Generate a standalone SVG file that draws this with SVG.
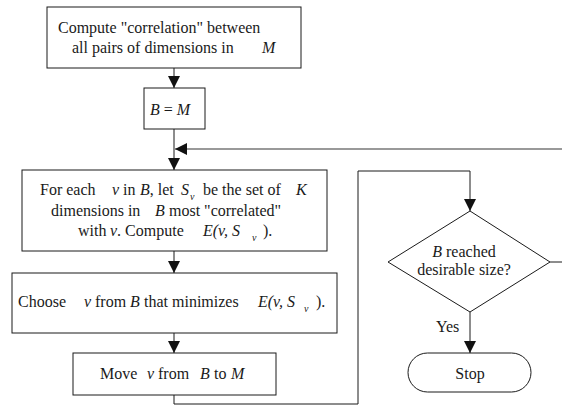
<svg xmlns="http://www.w3.org/2000/svg" width="562" height="415" viewBox="0 0 562 415">
<style>
text{font-family:"Liberation Serif",Tinos,"Times New Roman",Times,"DejaVu Serif","Noto Serif",serif;font-size:16px;fill:#1a1a1a}
.i{font-style:italic}
.sub{font-size:10px;font-style:italic}
.box{fill:#fff;stroke:#1a1a1a;stroke-width:1}
.ln{fill:none;stroke:#1a1a1a;stroke-width:1}
.gl{fill:none;stroke:#777;stroke-width:1.5}
</style>
<defs>
<marker id="ah" markerUnits="userSpaceOnUse" markerWidth="12" markerHeight="12" refX="12" refY="6" orient="auto">
<path d="M0,0 L12,6 L0,12 z" fill="#111"/>
</marker>
</defs>
<rect width="562" height="415" fill="#fff"/>
<g id="connectors">
<path class="ln" d="M174,68 V88" marker-end="url(#ah)"/>
<path class="ln" d="M174,129 V170" marker-end="url(#ah)"/>
<path class="gl" d="M562,149 H175" marker-end="url(#ah)"/>
<path class="ln" d="M174,251 V273" marker-end="url(#ah)"/>
<path class="ln" d="M174,333 V353" marker-end="url(#ah)"/>
<path class="ln" d="M174,395 V404 H358 V171 H470 V211" marker-end="url(#ah)"/>
<path class="ln" d="M470,312 V353" marker-end="url(#ah)"/>
<path class="ln" d="M550,262 H562"/>
<text x="436" y="332" font-family="Liberation Serif, serif">Yes</text>
</g>
<g id="n-correlation">
<rect class="box" x="47" y="7" width="254" height="61"/>
<text x="58" y="33">Compute "correlation" between</text>
<text y="53"><tspan x="72">all pairs of dimensions in</tspan><tspan x="262" class="i">M</tspan></text>
</g>
<g id="n-init">
<rect class="box" x="144" y="88" width="61" height="41"/>
<text x="150" y="115"><tspan class="i">B</tspan> = <tspan class="i">M</tspan></text>
</g>
<g id="n-foreach">
<rect class="box" x="22" y="170" width="305" height="81"/>
<text y="195"><tspan x="40">For each</tspan><tspan x="112" class="i">v</tspan><tspan x="123">in</tspan><tspan x="140" class="i">B</tspan><tspan>, let</tspan><tspan x="181" class="i">S</tspan><tspan x="190" y="200" class="sub">v</tspan><tspan x="203" y="195">be the set of</tspan><tspan x="296" class="i">K</tspan></text>
<text y="215.5"><tspan x="51">dimensions in</tspan><tspan x="155" class="i">B</tspan><tspan x="169">most "correlated"</tspan></text>
<text y="236"><tspan x="78">with</tspan><tspan x="110" class="i">v</tspan><tspan>. Compute</tspan><tspan x="203" class="i">E(v, S</tspan><tspan x="252" y="241" class="sub">v</tspan><tspan x="263" y="236">).</tspan></text>
</g>
<g id="n-choose">
<rect class="box" x="12" y="273" width="325" height="60"/>
<text y="306.5"><tspan x="18">Choose</tspan><tspan x="84" class="i">v</tspan><tspan x="95">from</tspan><tspan x="130" class="i">B</tspan><tspan x="144">that minimizes</tspan><tspan x="258" class="i">E(v, S</tspan><tspan x="304" y="311.5" class="sub">v</tspan><tspan x="316" y="306.5">).</tspan></text>
</g>
<g id="n-move">
<rect class="box" x="73" y="353" width="203" height="42"/>
<text y="379"><tspan x="100">Move</tspan><tspan x="147" class="i">v</tspan><tspan x="158">from</tspan><tspan x="200" class="i">B</tspan><tspan x="214">to</tspan><tspan x="231" class="i">M</tspan></text>
</g>
<g id="n-decision">
<path class="box" d="M470,211 L550,262 L470,312 L388,262 z"/>
<text x="464" y="257" text-anchor="middle"><tspan class="i">B</tspan> reached</text>
<text x="464" y="275" text-anchor="middle">desirable size?</text>
</g>
<g id="n-stop">
<rect class="box" x="408" y="353" width="123" height="39" rx="19.5" ry="19.5"/>
<text x="470" y="379" text-anchor="middle">Stop</text>
</g>
</svg>
